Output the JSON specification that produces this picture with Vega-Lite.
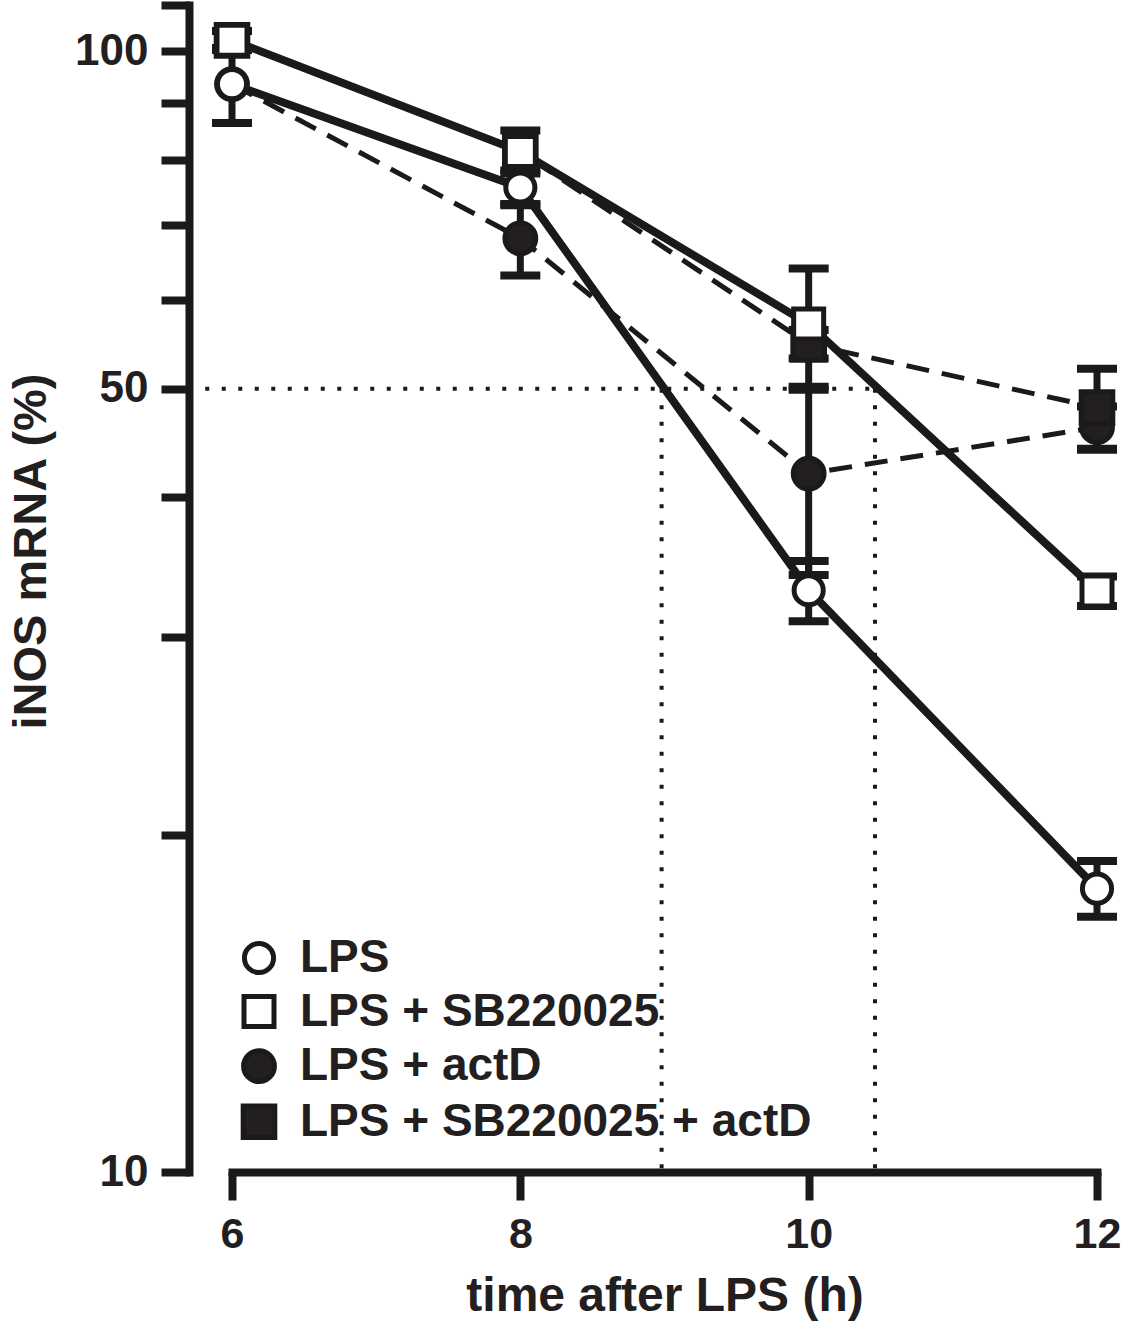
{
  "$schema": "https://vega.github.io/schema/vega-lite/v6.json",
  "width": 865,
  "height": 1167,
  "autosize": {"type": "none"},
  "padding": {"left": 232, "top": 5, "right": 26, "bottom": 151},
  "background": "white",
  "config": {"view": {"stroke": null}, "font": "Liberation Sans"},
  "datasets": {
    "pts": [
      {"series": "LPS + actD", "time": 6, "value": 93.5},
      {"series": "LPS + actD", "time": 8, "value": 68.1, "lo": 63.1, "hi": 73.1},
      {"series": "LPS + actD", "time": 10, "value": 42.0, "lo": 34.1, "hi": 49.9},
      {"series": "LPS + actD", "time": 12, "value": 46.2, "lo": 44.2, "hi": 48.2},
      {"series": "LPS + SB220025 + actD", "time": 6, "value": 102.3},
      {"series": "LPS + SB220025 + actD", "time": 8, "value": 81.4},
      {"series": "LPS + SB220025 + actD", "time": 10, "value": 54.8, "lo": 53.2, "hi": 56.4},
      {"series": "LPS + SB220025 + actD", "time": 12, "value": 48.1, "lo": 44.1, "hi": 52.1},
      {"series": "LPS", "time": 6, "value": 93.5, "lo": 86.3, "hi": 100.7},
      {"series": "LPS", "time": 8, "value": 75.6, "lo": 72.9, "hi": 78.3},
      {"series": "LPS", "time": 10, "value": 33.05, "lo": 31.0, "hi": 35.1},
      {"series": "LPS", "time": 12, "value": 17.9, "lo": 16.9, "hi": 18.95},
      {"series": "LPS + SB220025", "time": 6, "value": 102.3, "lo": 100.3, "hi": 104.3},
      {"series": "LPS + SB220025", "time": 8, "value": 81.4, "lo": 77.8, "hi": 85.0},
      {"series": "LPS + SB220025", "time": 10, "value": 57.1, "lo": 50.2, "hi": 64.0},
      {"series": "LPS + SB220025", "time": 12, "value": 33.0, "lo": 32.0, "hi": 34.0}
    ],
    "refs": [
      {"time": 5.7, "time2": 10.46, "value": 50, "value2": 50},
      {"time": 8.98, "time2": 8.98, "value": 50, "value2": 10},
      {"time": 10.46, "time2": 10.46, "value": 50, "value2": 10}
    ]
  },
  "layer": [
    {
      "data": {"name": "refs"},
      "mark": {"type": "rule", "color": "#1a1a1a", "strokeWidth": 4, "strokeDash": [4, 12.5]},
      "encoding": {
        "x": {"field": "time", "type": "quantitative", "title": "time after LPS (h)", "scale": {"domain": [6, 12], "nice": false, "zero": false}},
        "x2": {"field": "time2"},
        "y": {"field": "value", "type": "quantitative", "title": "iNOS mRNA (%)", "scale": {"type": "log", "domain": [10, 110], "nice": false}},
        "y2": {"field": "value2"}
      }
    },
    {
      "data": {"name": "pts"},
      "transform": [{"filter": "datum.series == 'LPS + actD' || datum.series == 'LPS + SB220025 + actD'"}],
      "mark": {"type": "line", "color": "#1a1a1a", "strokeWidth": 5, "strokeDash": [23, 13]},
      "encoding": {
        "x": {"field": "time", "type": "quantitative", "title": "time after LPS (h)", "scale": {"domain": [6, 12], "nice": false, "zero": false}},
        "y": {"field": "value", "type": "quantitative", "title": "iNOS mRNA (%)", "scale": {"type": "log", "domain": [10, 110], "nice": false}},
        "detail": {"field": "series", "type": "nominal"}
      }
    },
    {
      "data": {"name": "pts"},
      "transform": [{"filter": "datum.series == 'LPS' || datum.series == 'LPS + SB220025'"}],
      "mark": {"type": "line", "color": "#1a1a1a", "strokeWidth": 8},
      "encoding": {
        "x": {"field": "time", "type": "quantitative", "title": "time after LPS (h)", "scale": {"domain": [6, 12], "nice": false, "zero": false}},
        "y": {"field": "value", "type": "quantitative", "title": "iNOS mRNA (%)", "scale": {"type": "log", "domain": [10, 110], "nice": false}},
        "detail": {"field": "series", "type": "nominal"}
      }
    },
    {
      "data": {"name": "pts"},
      "transform": [{"filter": "isValid(datum.lo)"}],
      "mark": {"type": "rule", "color": "#1a1a1a", "strokeWidth": 7},
      "encoding": {
        "x": {"field": "time", "type": "quantitative", "title": "time after LPS (h)", "scale": {"domain": [6, 12], "nice": false, "zero": false}},
        "y": {"field": "lo", "type": "quantitative", "title": "iNOS mRNA (%)", "scale": {"type": "log", "domain": [10, 110], "nice": false}},
        "y2": {"field": "hi"}
      }
    },
    {
      "data": {"name": "pts"},
      "transform": [{"filter": "isValid(datum.lo)"}],
      "mark": {"type": "tick", "orient": "horizontal", "color": "#1a1a1a", "size": 40, "thickness": 8, "opacity": 1},
      "encoding": {
        "x": {"field": "time", "type": "quantitative", "title": "time after LPS (h)", "scale": {"domain": [6, 12], "nice": false, "zero": false}},
        "y": {"field": "lo", "type": "quantitative", "title": "iNOS mRNA (%)", "scale": {"type": "log", "domain": [10, 110], "nice": false}}
      }
    },
    {
      "data": {"name": "pts"},
      "transform": [{"filter": "isValid(datum.hi)"}],
      "mark": {"type": "tick", "orient": "horizontal", "color": "#1a1a1a", "size": 40, "thickness": 8, "opacity": 1},
      "encoding": {
        "x": {"field": "time", "type": "quantitative", "title": "time after LPS (h)", "scale": {"domain": [6, 12], "nice": false, "zero": false}},
        "y": {"field": "hi", "type": "quantitative", "title": "iNOS mRNA (%)", "scale": {"type": "log", "domain": [10, 110], "nice": false}}
      }
    },
    {
      "data": {"name": "pts"},
      "mark": {"type": "point", "filled": true, "stroke": "#1a1a1a", "strokeWidth": 5, "opacity": 1},
      "encoding": {
        "x": {
          "field": "time", "type": "quantitative", "title": "time after LPS (h)",
          "scale": {"domain": [6, 12], "nice": false, "zero": false},
          "axis": {
            "values": [6, 8, 10, 12], "format": "d", "grid": false,
            "domainColor": "#1a1a1a", "domainWidth": 8, "domainCap": "square",
            "tickColor": "#1a1a1a", "tickWidth": 8, "tickSize": 28,
            "labelFont": "Liberation Sans", "labelFontWeight": "bold", "labelFontSize": 43, "labelColor": "#231f20",
            "labelPadding": 13, "labelFlush": false, "labelOverlap": false,
            "titleFont": "Liberation Sans", "titleFontWeight": "bold", "titleFontSize": 48,
            "titleColor": "#231f20", "titlePadding": 16
          }
        },
        "y": {
          "field": "value", "type": "quantitative", "title": "iNOS mRNA (%)",
          "scale": {"type": "log", "domain": [10, 110], "nice": false},
          "axis": {
            "values": [10, 20, 30, 40, 50, 60, 70, 80, 90, 100, 110], "format": "d",
            "labelExpr": "(datum.value == 10 || datum.value == 50 || datum.value == 100) ? datum.label : ''",
            "offset": 43, "grid": false,
            "domainColor": "#1a1a1a", "domainWidth": 8, "domainCap": "square",
            "tickColor": "#1a1a1a", "tickWidth": 8, "tickSize": 28,
            "labelFont": "Liberation Sans", "labelFontWeight": "bold", "labelFontSize": 44, "labelColor": "#231f20",
            "labelPadding": 13, "labelOverlap": false, "labelFlush": false,
            "titleFont": "Liberation Sans", "titleFontWeight": "bold", "titleFontSize": 47,
            "titleColor": "#231f20", "titlePadding": 19, "titleY": 546
          }
        },
        "shape": {
          "field": "series", "type": "nominal",
          "scale": {"domain": ["LPS", "LPS + SB220025", "LPS + actD", "LPS + SB220025 + actD"], "range": ["circle", "square", "circle", "square"]},
          "legend": {
            "orient": "none", "legendX": 4, "legendY": 930, "title": null,
            "labelFont": "Liberation Sans", "labelFontWeight": "bold", "labelFontSize": 46, "labelColor": "#231f20",
            "symbolStrokeColor": "#1a1a1a", "symbolStrokeWidth": 5, "rowPadding": 3.6, "labelOffset": 18, "padding": 0, "labelLimit": 0
          }
        },
        "fill": {
          "field": "series", "type": "nominal",
          "scale": {"domain": ["LPS", "LPS + SB220025", "LPS + actD", "LPS + SB220025 + actD"], "range": ["white", "white", "#231f20", "#231f20"]}
        },
        "size": {
          "field": "series", "type": "nominal",
          "scale": {"domain": ["LPS", "LPS + SB220025", "LPS + actD", "LPS + SB220025 + actD"], "range": [850, 1000, 850, 1000]}
        }
      }
    }
  ]
}
